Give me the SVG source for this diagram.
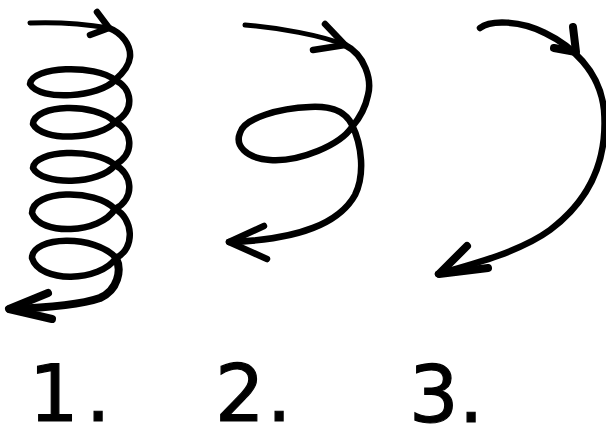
<svg xmlns="http://www.w3.org/2000/svg" width="606" height="427" viewBox="0 0 606 427">
<style>
.ink{fill:none;stroke:#000;stroke-linecap:round;stroke-linejoin:round}
.s4{stroke-width:5}
.s5{stroke-width:6.5}
.s7{stroke-width:8}
.lbl{font-family:"DejaVu Sans",sans-serif;font-size:78px;fill:#000;stroke:#000;stroke-width:1.2}
</style>
<rect width="606" height="427" fill="#fff"/>
<g id="spiral1">
<path class="ink s4" d="M30,23 C55,22 85,24 109,28"/>
<path class="ink s5" d="M109,28 C122,33 131,45 130,57 C129,67 122,74 115,80 C100,97 40,102 30,84 C32,66 95,64 115,80 C132,88 136,110 115,122 C100,140 42,142 33,124 C34,104 95,102 115,122 C132,130 136,153 115,165 C100,185 42,186 33,168 C34,150 95,147 115,165 C132,173 136,198 115,209 C100,234 40,236 32,213 C32,190 95,188 115,209 C133,218 136,248 116,258 C100,282 40,284 32,258 C32,236 95,234 116,258"/>
<path class="ink s7" d="M116,258 C122,270 118,290 100,298 C80,305 40,308 10,309"/>
<path class="ink s5" d="M97,12 L109,28 L90,35"/>
<path class="ink s7" d="M48,293 L9,309 L52,319"/>
</g>
<g id="spiral2">
<path class="ink s4" d="M245,25 C280,28 320,35 345,45"/>
<path class="ink s5" d="M345,45 C365,55 372,80 368,95 C365,110 358,120 352,127 C340,145 300,162 270,160 C245,158 235,145 240,133 C244,118 280,108 310,107 C330,106 345,110 352,125 C362,145 365,175 355,195 C340,222 300,240 229,242"/>
<path class="ink s5" d="M325,24 L345,45 L313,50"/>
<path class="ink s5" d="M264,226 L229,242 L267,259"/>
</g>
<g id="spiral3">
<path class="ink s5" d="M480,28 C490,20 520,20 545,33 C570,45 600,70 604,110 C608,160 590,200 550,230 C520,252 470,265 438,274"/>
<path class="ink s7" d="M573,27 L576,52 L554,48"/>
<path class="ink s7" d="M467,246 L439,274 L488,268"/>
</g>
<g id="labels">
<text class="lbl" x="29" y="421">1<tspan dx="7">.</tspan></text>
<text class="lbl" x="215" y="421">2<tspan dx="2">.</tspan></text>
<text class="lbl" x="409" y="422">3<tspan dx="0">.</tspan></text>
</g>
</svg>
